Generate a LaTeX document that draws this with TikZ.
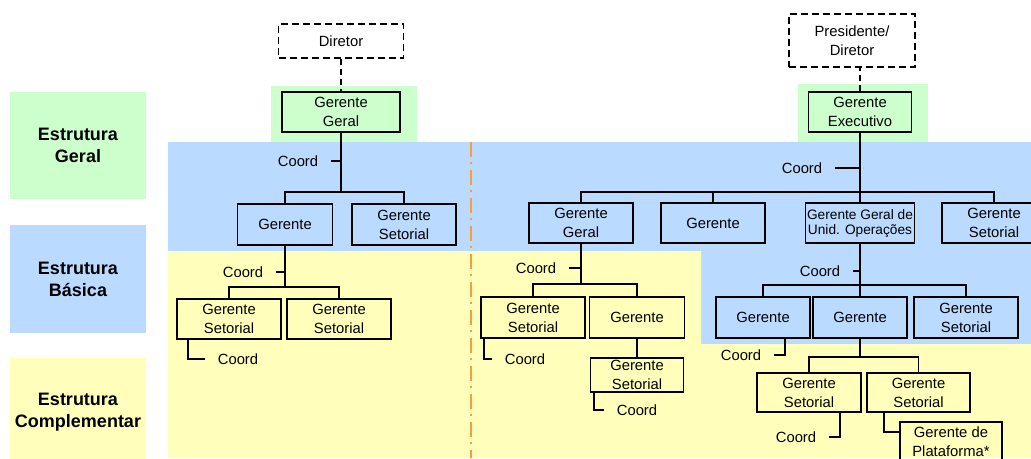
\documentclass[tikz,border=0pt]{standalone}
\usepackage{fontspec}
\setmainfont{Liberation Sans}
\definecolor{geralgreen}{RGB}{204,255,204}
\definecolor{basicblue}{RGB}{187,218,255}
\definecolor{complyellow}{RGB}{255,255,187}
\definecolor{divorange}{RGB}{245,160,60}

\tikzstyle{unit} = [draw,align=center,inner sep=1pt,minimum width=104pt,minimum height=40pt,font=\fontsize{14.8}{19}\selectfont]
\tikzstyle{boss} = [unit,dash pattern=on 7pt off 4pt]
\tikzstyle{coord} = [inner xsep=12pt,inner ysep=2pt,font=\fontsize{14.8}{19}\selectfont]
\tikzstyle{legend} = [align=center,minimum width=136pt,minimum height=107pt,font=\fontsize{18}{22}\selectfont\bfseries]

\begin{document}
\begin{tikzpicture}[x=1pt,y=-1pt,line width=1.8pt]
	\useasboundingbox (0,0) rectangle (1031,458);
	\clip (0,0) rectangle (1031,458);
	% levels
	\node[legend,fill=geralgreen] (lgeral) at (78,145.5) {Estrutura\\Geral};
	\node[legend,fill=basicblue,minimum height=108pt] (lbasica) at (78,279) {Estrutura\\Básica};
	\node[legend,fill=complyellow,minimum height=108pt] (lcompl) at (78,412) {Estrutura\\Complementar};
	\fill[basicblue] (168,142) -- (1031,142) -- (1031,344) -- (701,344) -- (701,251) -- (168,251) -- cycle;
	\fill[complyellow] (168,251) -- (701,251) -- (701,344) -- (1031,344) -- (1031,458) -- (168,458) -- cycle;
	\fill[geralgreen] (271,86) rectangle (417,142);
	\fill[geralgreen] (798,84) rectangle (928,142);
	\draw[divorange,line width=1.5pt,dash pattern=on 15pt off 5pt on 2pt off 6pt] (471,142) -- (471,458);
	% left tree
	\node[boss,minimum width=125pt,minimum height=34pt] (dir1) at (341,41) {Diretor};
	\node[unit,minimum width=118pt] (gg1) at (341,112) {Gerente\\Geral};
	\node[unit,minimum width=95pt,minimum height=41pt] (g1) at (285,224.5) {Gerente};
	\node[unit,minimum height=41pt] (gs1) at (404,224.5) {Gerente\\Setorial};
	\node[unit] (gs2) at (229,319) {Gerente\\Setorial};
	\node[unit] (gs3) at (339,319) {Gerente\\Setorial};
	\node[coord] (c1) at (298,161) {Coord};
	\node[coord] (c2) at (243,272) {Coord};
	\node[coord] (c3) at (238,359) {Coord};
	\coordinate (b1) at (341,192);
	\coordinate (b2) at (285,287);
	\draw[dash pattern=on 6pt off 4pt] (dir1.south) -- (gg1.north);
	\draw (gg1.south) -- (b1);
	\draw (g1.north) |- (b1) -| (gs1.north);
	\draw (c1.east) -- (c1.east -| b1);
	\draw (g1.south) -- (b2);
	\draw (gs2.north) |- (b2) -| (gs3.north);
	\draw (c2.east) -- (c2.east -| b2);
	\draw ([xshift=12pt]gs2.south west) |- (c3.west);
	% right tree
	\node[boss,minimum width=126pt,minimum height=53pt] (dir2) at (852,40.5) {Presidente/\\Diretor};
	\node[unit,minimum width=103pt] (ge) at (860,112) {Gerente\\Executivo};
	\node[unit] (gg2) at (581,223) {Gerente\\Geral};
	\node[unit] (g2) at (713,223) {Gerente};
	\node[unit,minimum width=109pt,font=\fontsize{13.7}{15}\selectfont] (gu) at (860,223) {Gerente Geral de\\Unid. Operações};
	\node[unit] (gs4) at (994,223) {Gerente\\Setorial};
	\node[unit,minimum height=41pt] (gs5) at (533,317.5) {Gerente\\Setorial};
	\node[unit,minimum width=95pt,minimum height=41pt] (g3) at (637,317.5) {Gerente};
	\node[unit,minimum width=93pt,minimum height=34pt,inner sep=0pt] (gs6) at (637,375) {Gerente\\Setorial};
	\node[unit,minimum width=94pt,minimum height=41pt] (g4) at (763,317.5) {Gerente};
	\node[unit,minimum width=94pt,minimum height=41pt] (g5) at (860,317.5) {Gerente};
	\node[unit,minimum height=41pt] (gs7) at (966,317.5) {Gerente\\Setorial};
	\node[unit,minimum height=39pt] (gs8) at (809,392.5) {Gerente\\Setorial};
	\node[unit,minimum width=103pt,minimum height=39pt] (gs9) at (918.5,392.5) {Gerente\\Setorial};
	\node[unit,minimum width=102pt] (gp) at (951,442) {Gerente de\\Plataforma*};
	\node[coord] (c4) at (802,168) {Coord};
	\node[coord] (c5) at (536,268) {Coord};
	\node[coord] (c6) at (525,359) {Coord};
	\node[coord] (c7) at (637,410) {Coord};
	\node[coord] (c8) at (820,271) {Coord};
	\node[coord] (c9) at (741,355) {Coord};
	\node[coord] (c10) at (796,437) {Coord};
	\coordinate (b4) at (860,192);
	\coordinate (b5) at (581,284);
	\coordinate (b6) at (860,285);
	\coordinate (b7) at (860,357);
	\draw[dash pattern=on 6pt off 4pt] (ge.north) -- (ge.north |- dir2.south);
	\draw (ge.south) -- (gu.north);
	\draw (gg2.north) |- (b4) -| (gs4.north);
	\draw (g2.north) -- (g2.north |- b4);
	\draw (c4.east) -- (c4.east -| b4);
	\draw (gg2.south) -- (b5);
	\draw (gs5.north) |- (b5) -| (g3.north);
	\draw (c5.east) -- (c5.east -| b5);
	\draw ([xshift=4pt]gs5.south west) |- (c6.west);
	\draw (g3.south) -- (gs6.north);
	\draw ([xshift=4pt]gs6.south west) |- (c7.west);
	\draw (gu.south) -- (b6);
	\draw (g4.north) |- (b6) -| (gs7.north);
	\draw (g5.north) -- (b6);
	\draw (c8.east) -- (c8.east -| b6);
	\draw ([xshift=-26pt]g4.south east) |- (c9.east);
	\draw (g5.south) -- (b7);
	\draw (gs8.north) |- (b7) -| (gs9.north);
	\draw ([xshift=-22pt]gs8.south east) |- (c10.east);
	\draw ([xshift=18pt]gs9.south west) |- ([yshift=10pt]gp.west);
\end{tikzpicture}
\end{document}
